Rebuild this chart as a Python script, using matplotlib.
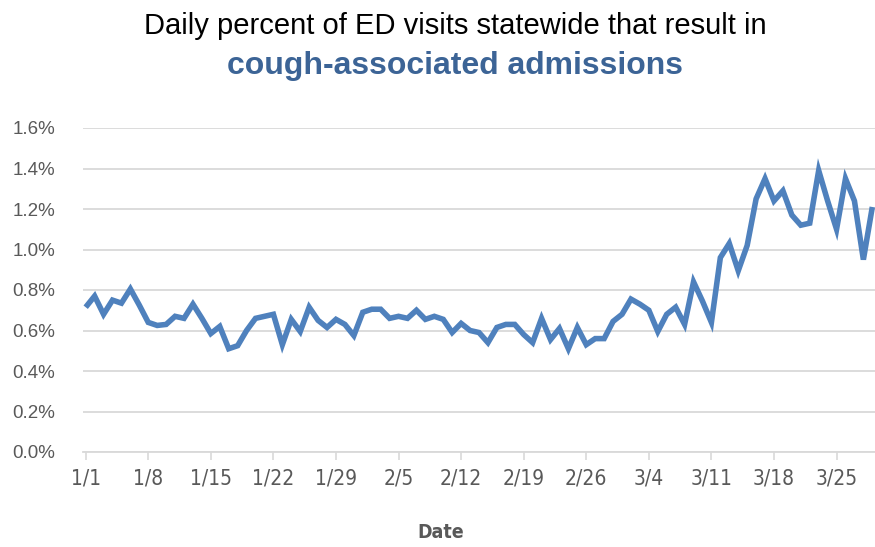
import matplotlib
matplotlib.use("Agg")
import matplotlib.pyplot as plt
import numpy as np

# Data: daily percent (1/1/2020 .. 3/29/2020)
start_date = "2020-01-01"
values = [
    0.715, 0.77, 0.68, 0.75, 0.735, 0.805, 0.725, 0.64, 0.625, 0.63,
    0.67, 0.66, 0.73, 0.66, 0.585, 0.62, 0.51, 0.525, 0.60, 0.66,
    0.67, 0.68, 0.53, 0.655, 0.595, 0.715, 0.65, 0.615, 0.655, 0.63,
    0.575, 0.69, 0.705, 0.705, 0.66, 0.67, 0.66, 0.70, 0.655, 0.67,
    0.655, 0.59, 0.635, 0.60, 0.59, 0.54, 0.615, 0.63, 0.63, 0.58,
    0.54, 0.66, 0.555, 0.61, 0.51, 0.615, 0.53, 0.56, 0.56, 0.645,
    0.68, 0.755, 0.73, 0.70, 0.595, 0.68, 0.715, 0.63, 0.84, 0.745,
    0.64, 0.96, 1.03, 0.895, 1.02, 1.25, 1.35, 1.24, 1.29, 1.17,
    1.12, 1.13, 1.39, 1.24, 1.10, 1.35, 1.24, 0.95, 1.21,
]
tick_labels = ["1/1", "1/8", "1/15", "1/22", "1/29", "2/5", "2/12",
               "2/19", "2/26", "3/4", "3/11", "3/18", "3/25"]
y_ticks = [0.0, 0.2, 0.4, 0.6, 0.8, 1.0, 1.2, 1.4, 1.6]

title_line1 = "Daily percent of ED visits statewide that result in"
title_line2 = "cough-associated admissions"
x_label = "Date"

idx = np.arange(len(values))
tick_pos = np.arange(0, len(values), 7)[:len(tick_labels)]

sans = ["Liberation Sans", "DejaVu Sans"]

fig = plt.figure(figsize=(8.75, 5.47), dpi=100)
W, H = 875, 547
left, right, top, bottom = 83, 875, 128, 452
ax = fig.add_axes([left / W, 1 - bottom / H, (right - left) / W, (bottom - top) / H])

ax.plot(idx, values, color="#4F81BD", linewidth=4.0, solid_joinstyle="miter",
        solid_capstyle="butt", zorder=3)

ax.set_ylim(0, 1.6)
ax.set_xlim(-0.3, len(values) - 1 + 0.3)
ax.set_yticks(y_ticks)
ax.set_yticklabels([f"{v:.1f}%" for v in y_ticks], family=sans, fontsize=13.5,
                   color="#595959")
ax.set_xticks(tick_pos)
ax.set_xticklabels(tick_labels, family="DejaVu Sans", fontstretch="condensed",
                   fontsize=15, color="#595959")

ax.grid(axis="y", color="#D9D9D9", linewidth=1.3, zorder=0)
for s in ["top", "right", "left"]:
    ax.spines[s].set_visible(False)
ax.spines["bottom"].set_color("#D9D9D9")
ax.spines["bottom"].set_linewidth(1.3)
ax.tick_params(axis="y", length=0, pad=20)
ax.tick_params(axis="x", length=6, width=1.2, color="#D9D9D9", pad=6)

fig.text(455 / W, 1 - 26 / H, title_line1, ha="center", va="center",
         family=sans, fontsize=21, color="black")
fig.text(455 / W, 1 - 66 / H, title_line2, ha="center", va="center",
         family=sans, fontsize=23, fontweight="bold", color="#3C6496")
fig.text(441 / W, 1 - 533 / H, x_label, ha="center", va="center",
         family="DejaVu Sans", fontstretch="condensed", fontsize=14,
         fontweight="bold", color="#595959")

fig.savefig("out.png", dpi=100)
